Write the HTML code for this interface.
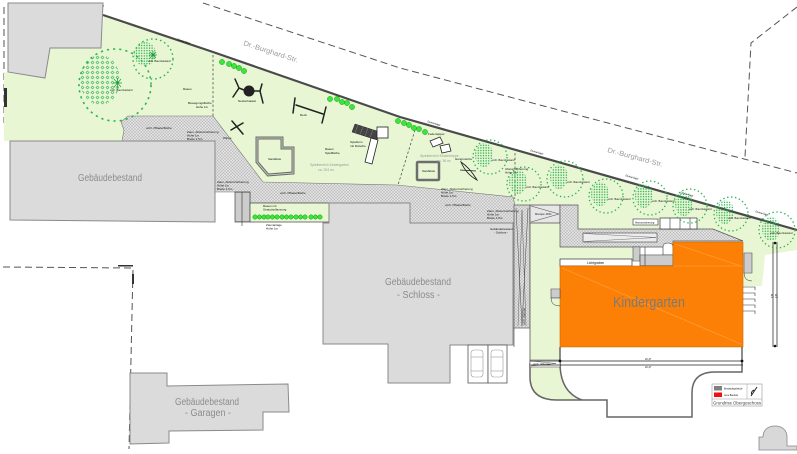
<!DOCTYPE html>
<html><head><meta charset="utf-8"><title>Lageplan Kindergarten</title>
<style>
html,body{margin:0;padding:0;background:#fff;width:797px;height:454px;overflow:hidden}
svg{display:block}
text{font-family:"Liberation Sans",Arial,sans-serif}
.t{font-size:3px;fill:#111}
.b{font-size:10px;fill:#8c8c8c}
</style></head><body>
<svg width="797" height="454" viewBox="0 0 797 454" xmlns="http://www.w3.org/2000/svg">
<defs>
 <pattern id="pv" width="3" height="3" patternUnits="userSpaceOnUse"><rect width="3" height="3" fill="#e0e0e0"/><path d="M0,0L3,3M3,0L0,3" stroke="#b4b4b4" stroke-width="0.45"/></pattern>
 <pattern id="td" width="2.6" height="2.6" patternUnits="userSpaceOnUse"><circle cx="1.3" cy="1.3" r="0.72" fill="#1fae48"/></pattern>
 <pattern id="lf" width="5" height="5" patternUnits="userSpaceOnUse"><path d="M1,2.5L2.5,1L4,2.5L2.5,4Z" fill="none" stroke="#2db552" stroke-width="0.6"/></pattern>
 <pattern id="st" width="4" height="2" patternUnits="userSpaceOnUse"><rect width="4" height="2" fill="#fff"/><line x1="0" y1="1" x2="4" y2="1" stroke="#333" stroke-width="0.5"/></pattern>
</defs>
<rect width="797" height="454" fill="#fff"/>

<!-- dashed property / road lines -->
<g fill="none" stroke="#555" stroke-width="1" stroke-dasharray="7 4">
 <polyline points="203,3 400,68 797,173"/>
 <polyline points="797,7 751,43 745,157"/>
 <polyline points="58,3 104,6"/>
 <polyline points="4,7 4,123"/>
 <polyline points="3,267 133,268 129,449"/>
</g>
<rect x="118" y="265" width="15" height="1.5" fill="#333"/>
<rect x="132" y="274" width="2" height="10" fill="#333"/>

<!-- lawn -->
<polygon fill="#e8f6d4" points="4,72 45,78 50,48 101,48 104,14 110,18 213,53 400,117 797,230 797,250 765,255 762,286 743,286 743,241 713,229 578,229 578,205 515,205 513,197 397,185 263,182 213,116 128,116 122,141 4,141"/>
<rect x="4" y="88" width="3" height="19" fill="#333"/>

<!-- top-left neighbour building -->
<polygon points="8,3 103,3 101,48 50,48 45,78 8,72" fill="#dbdbdb" stroke="#8a8a8a" stroke-width="1"/>

<!-- fence along street -->
<polyline points="103,15 112,18 213,52 400,117 797,230" fill="none" stroke="#4a4a4a" stroke-width="2.2"/>
<g class="t" style="font-size:2.6px">
 <text transform="translate(177,40) rotate(18)">Zaunanlage</text>
 <text transform="translate(427,122) rotate(17)">Zaunanlage</text>
 <text transform="translate(530,151) rotate(16)">Zaunanlage</text>
 <text transform="translate(625,176) rotate(16)">Zaunanlage</text>
 <text transform="translate(680,193) rotate(16)">Zaunanlage</text>
 <text transform="translate(755,212) rotate(16)">Zaunanlage</text>
</g>

<!-- dashed lines inside lawn -->
<g fill="none" stroke="#555" stroke-width="0.8" stroke-dasharray="2.5 2">
 <line x1="213" y1="55" x2="213" y2="116"/>
 <line x1="415" y1="130" x2="398" y2="185"/>
 <line x1="515" y1="153" x2="515" y2="196"/>
</g>

<!-- paving -->
<polygon fill="url(#pv)" stroke="#777" stroke-width="0.6" points="128,116 213,116 263,182 397,185 513,197 515,205 515,223 410,223 410,203 250,203 250,192 215,192 215,141 122,141 124,130 121,122"/>

<!-- left building -->
<polygon points="10,141 215,141 215,222 10,220" fill="#dbdbdb" stroke="#8a8a8a" stroke-width="1"/>
<text class="b" x="78" y="181" textLength="64" lengthAdjust="spacingAndGlyphs">Gebäudebestand</text>

<!-- stairs + green strip -->
<rect x="235" y="192" width="15" height="30" fill="url(#st)" stroke="#444" stroke-width="0.7"/>
<line x1="242" y1="192" x2="242" y2="226" stroke="#333" stroke-width="0.6"/>
<rect x="250" y="203" width="80" height="19" fill="#e8f6d4" stroke="#555" stroke-width="0.8"/>
<g fill="#39e639" stroke="#1a9a1a" stroke-width="0.5">
 <circle cx="255" cy="217" r="2.2"/><circle cx="259.5" cy="217" r="2.2"/><circle cx="264" cy="217" r="2.2"/>
 <circle cx="268" cy="217" r="2.2"/><circle cx="272.5" cy="217" r="2.2"/><circle cx="277" cy="217" r="2.2"/>
 <circle cx="282" cy="217" r="2.2"/><circle cx="286.5" cy="217" r="2.2"/><circle cx="291" cy="217" r="2.2"/>
 <circle cx="296" cy="217" r="2.2"/><circle cx="300.5" cy="217" r="2.2"/><circle cx="305" cy="217" r="2.2"/>
 <circle cx="311" cy="217" r="2.2"/><circle cx="315.5" cy="217" r="2.2"/><circle cx="320" cy="217" r="2.2"/>
</g>

<!-- Schloss building -->
<polygon points="323,223 329,223 329,203 410,203 410,223 513,223 513,345 450,345 450,383 388,383 388,344 323,344" fill="#dbdbdb" stroke="#8a8a8a" stroke-width="1"/>
<text class="b" x="385" y="285" textLength="66" lengthAdjust="spacingAndGlyphs">Gebäudebestand</text>
<text class="b" x="397" y="298" textLength="43" lengthAdjust="spacingAndGlyphs">- Schloss -</text>

<!-- parking -->
<g fill="#fff" stroke="#555" stroke-width="0.8">
 <rect x="468" y="345" width="20" height="38"/>
 <rect x="488" y="345" width="19" height="38"/>
</g>
<g fill="none" stroke="#999" stroke-width="0.6">
 <rect x="471" y="350" width="12" height="27" rx="3"/><line x1="471" y1="357" x2="483" y2="357"/><line x1="471" y1="371" x2="483" y2="371"/>
 <rect x="491" y="350" width="12" height="27" rx="3"/><line x1="491" y1="357" x2="503" y2="357"/><line x1="491" y1="371" x2="503" y2="371"/>
</g>

<!-- ramp strip -->
<rect x="514" y="205" width="16" height="123" fill="url(#pv)" stroke="#555" stroke-width="0.7"/>
<polyline points="516,208 522,326 528,208" fill="none" stroke="#444" stroke-width="0.5"/>
<polyline points="518,326 522,210 526,326" fill="none" stroke="#444" stroke-width="0.4"/>
<line x1="514" y1="328" x2="514" y2="347" stroke="#555" stroke-width="0.7"/>

<!-- green column -->
<rect x="530" y="223" width="30" height="140" fill="#e8f6d4"/>
<rect x="560" y="247" width="75" height="13" fill="#e8f6d4"/>
<path d="M530,363 L530,377 Q530,400 557,400 L582,400 Q560,392 560,363 Z" fill="#e8f6d4"/>
<line x1="530" y1="205" x2="530" y2="377" stroke="#555" stroke-width="0.8"/>

<!-- Rampe box -->
<rect x="530" y="205" width="30" height="18" fill="#e6e6e6" stroke="#444" stroke-width="0.7"/>
<polyline points="531,206 559,214 531,222" fill="none" stroke="#444" stroke-width="0.5"/>
<text class="t" x="535" y="215">Rampe 16%</text>

<!-- gray block and band -->
<polygon points="560,205 578,205 578,229 713,229 743,241 673,241 673,247 560,247" fill="url(#pv)" stroke="#555" stroke-width="0.7"/>
<rect x="583" y="233" width="74" height="9" fill="#ececec" stroke="#444" stroke-width="0.6"/>
<polyline points="584,233.5 656,237.5 584,241.5" fill="none" stroke="#555" stroke-width="0.4"/>
<rect x="660" y="218" width="37" height="11" fill="#fff" stroke="#333" stroke-width="0.7"/>
<g stroke="#333" stroke-width="0.6"><line x1="670" y1="218" x2="670" y2="229"/><line x1="680" y1="218" x2="680" y2="229"/><line x1="690" y1="218" x2="690" y2="229"/></g>
<rect x="633" y="219" width="25" height="6" fill="#fff" stroke="#333" stroke-width="0.6"/>
<text class="t" x="635" y="223.3" style="font-size:2.5px">Absturzsicherung</text>
<path d="M663,255 L663,247 Q663,243 668,243 Q673,243 673,247 L673,255 Z" fill="#fff" stroke="#333" stroke-width="0.6"/>

<!-- stairs below band -->
<rect x="633" y="247" width="7" height="14" fill="url(#st)" stroke="#333" stroke-width="0.5"/>
<rect x="640" y="255" width="33" height="11" fill="url(#st)" stroke="#333" stroke-width="0.6"/>
<line x1="645" y1="247" x2="645" y2="266" stroke="#333" stroke-width="0.6"/>

<!-- Lichtgraben -->
<rect x="560" y="259" width="72" height="7" fill="#fff" stroke="#333" stroke-width="0.7"/>
<text class="t" x="587" y="264" style="font-size:3.3px">Lichtgraben</text>

<!-- Kindergarten -->
<polygon points="560,266 673,266 673,242 743,242 743,347 560,347" fill="#fd8006" stroke="#c86400" stroke-width="0.6"/>
<g stroke="#ffa347" stroke-width="0.6" fill="none">
 <line x1="562" y1="268" x2="741" y2="344"/>
 <line x1="675" y1="244" x2="741" y2="266"/>
 <line x1="673" y1="266" x2="743" y2="266"/>
</g>
<text x="613" y="307" style="font-size:15px;fill:#7a7a7a" textLength="72" lengthAdjust="spacingAndGlyphs">Kindergarten</text>

<!-- stairs around kindergarten -->
<rect x="744" y="253" width="8" height="20" fill="url(#st)" stroke="#333" stroke-width="0.5"/>
<path d="M744,273 Q744,281 752,281" fill="none" stroke="#333" stroke-width="0.5"/>
<rect x="551" y="289" width="9" height="9" fill="url(#st)" stroke="#333" stroke-width="0.5"/>
<path d="M551,298 Q551,306 560,306" fill="none" stroke="#333" stroke-width="0.5"/>
<g stroke="#333" stroke-width="0.6" fill="none">
 <polyline points="743,287 755,287 755,290"/>
 <polyline points="743,293 755,293 755,296"/>
 <polyline points="743,299 755,299 755,302"/>
 <polyline points="743,305 755,305 755,308"/>
 <polyline points="743,311 755,311 755,314"/>
</g>

<!-- lower outline -->
<g fill="none" stroke="#666" stroke-width="1.5">
 <path d="M530,363 L530,377 Q530,400 557,400 L607,400 L607,417 L692,417 L692,393 Q692,372 715,372 L742,372 L742,347"/>
 <path d="M560,347 L560,363 Q560,392 582,400"/>
</g>
<rect x="530" y="360" width="30" height="7" fill="#fff" stroke="#444" stroke-width="0.5"/>
<polyline points="531,361 556,363.5 531,366" fill="none" stroke="#444" stroke-width="0.4"/>
<g stroke="#222" stroke-width="0.7">
 <line x1="530" y1="361" x2="743" y2="361"/>
 <line x1="530" y1="365" x2="743" y2="365"/>
</g>
<circle cx="560" cy="361" r="1.4" fill="#111"/><circle cx="742" cy="361" r="1.4" fill="#111"/>
<text class="t" x="645" y="360" style="font-size:2.5px">20,47</text>
<text class="t" x="645" y="368" style="font-size:2.5px">20,47</text>

<!-- right dimension -->
<g stroke="#333" stroke-width="0.8">
 <line x1="773" y1="242" x2="773" y2="347"/>
 <line x1="777" y1="242" x2="777" y2="347"/>
</g>
<circle cx="775" cy="243" r="1.3" fill="#111"/><circle cx="775" cy="346" r="1.3" fill="#111"/>
<text x="771" y="298" style="font-size:5px;fill:#333">5 5</text>

<!-- legend -->
<rect x="712" y="384" width="50" height="22" fill="#fff" stroke="#999" stroke-width="0.6"/>
<line x1="712" y1="399" x2="762" y2="399" stroke="#999" stroke-width="0.5"/>
<line x1="747" y1="384" x2="747" y2="399" stroke="#999" stroke-width="0.5"/>
<rect x="714" y="386" width="8" height="4.5" fill="#808080"/>
<rect x="714" y="392.5" width="8" height="4.5" fill="#f01010"/>
<text class="t" x="724" y="389.5" style="font-size:2.3px">Bestandsgebäude</text>
<text class="t" x="724" y="396" style="font-size:2.3px">neue Bauteile</text>
<path d="M751,396 L757,387 M754,390 Q750,392 752,395" stroke="#222" stroke-width="1" fill="none"/>
<text x="713" y="404.5" style="font-size:4.6px;fill:#444" textLength="48" lengthAdjust="spacingAndGlyphs">Grundriss Obergeschoss</text>

<!-- bottom-right arch -->
<path d="M759,450 L759,437 L763,437 C763,430 768,426 775,426 C782,426 787,430 787,437 L787,446 L797,446 L797,450 Z" fill="#d8d8d8" stroke="#888" stroke-width="0.8"/>

<!-- Garagen -->
<polygon points="130,373 167,373 167,386 288,384 289,412 263,412 263,430 169,431 169,443 130,444" fill="#dbdbdb" stroke="#8a8a8a" stroke-width="1"/>
<text class="b" x="175" y="405" textLength="64" lengthAdjust="spacingAndGlyphs">Gebäudebestand</text>
<text class="b" x="185" y="416" textLength="46" lengthAdjust="spacingAndGlyphs">- Garagen -</text>

<!-- big trees top-left -->
<circle cx="115" cy="85" r="36" fill="none" stroke="#2db552" stroke-width="1.6" stroke-dasharray="2.2 4"/>
<ellipse cx="100" cy="80" rx="20" ry="25" fill="url(#lf)"/>
<path d="M113,83 L122,83 M117.5,78 L117.5,88 M114,79 L121,87 M121,79 L114,87" stroke="#1a9a3a" stroke-width="0.7"/>
<circle cx="153" cy="59" r="20" fill="none" stroke="#2db552" stroke-width="1.4" stroke-dasharray="1.6 3"/>
<ellipse cx="145" cy="54" rx="11" ry="12" fill="url(#td)"/>
<path d="M149,55 L157,55 M153,51 L153,59 M150,52 L156,58 M156,52 L150,58" stroke="#1a9a3a" stroke-width="0.7"/>

<!-- boundary trees -->
<g>
 <g transform="translate(490,157)"><circle r="17" fill="none" stroke="#2bb44e" stroke-width="1.3" stroke-dasharray="1.4 2.6"/><ellipse cx="-6" cy="-2" rx="9" ry="12" fill="url(#td)"/></g>
 <g transform="translate(524,184)"><circle r="17" fill="none" stroke="#2bb44e" stroke-width="1.3" stroke-dasharray="1.4 2.6"/><ellipse cx="-6" cy="-2" rx="9" ry="12" fill="url(#td)"/></g>
 <g transform="translate(565,179)"><circle r="18" fill="none" stroke="#2bb44e" stroke-width="1.3" stroke-dasharray="1.4 2.6"/><ellipse cx="-6" cy="-2" rx="9" ry="12" fill="url(#td)"/></g>
 <g transform="translate(606,196)"><circle r="17" fill="none" stroke="#2bb44e" stroke-width="1.3" stroke-dasharray="1.4 2.6"/><ellipse cx="-6" cy="-2" rx="9" ry="12" fill="url(#td)"/></g>
 <g transform="translate(650,198)"><circle r="17" fill="none" stroke="#2bb44e" stroke-width="1.3" stroke-dasharray="1.4 2.6"/><ellipse cx="-6" cy="-2" rx="9" ry="12" fill="url(#td)"/></g>
 <g transform="translate(690,206)"><circle r="17" fill="none" stroke="#2bb44e" stroke-width="1.3" stroke-dasharray="1.4 2.6"/><ellipse cx="-6" cy="-2" rx="9" ry="12" fill="url(#td)"/></g>
 <g transform="translate(731,214)"><circle r="17" fill="none" stroke="#2bb44e" stroke-width="1.3" stroke-dasharray="1.4 2.6"/><ellipse cx="-6" cy="-2" rx="9" ry="12" fill="url(#td)"/></g>
 <g transform="translate(777,230)"><circle r="18" fill="none" stroke="#2bb44e" stroke-width="1.3" stroke-dasharray="1.4 2.6"/><ellipse cx="-6" cy="-1" rx="9" ry="12" fill="url(#td)"/></g>
</g>
<g class="t" style="font-size:2.6px">
 <text x="110" y="91">vorh. Baumbestand</text>
 <text x="148" y="62">vorh. Baumbestand</text>
 <text x="492" y="161">vorh. Baumbestand</text>
 <text x="526" y="188">vorh. Baumbestand</text>
 <text x="567" y="183">vorh. Baumbestand</text>
 <text x="608" y="200">vorh. Baumbestand</text>
 <text x="652" y="202">vorh. Baumbestand</text>
 <text x="689" y="210">vorh. Baumbestand</text>
 <text x="728" y="219">vorh. Baumbestand</text>
 <text x="770" y="234">vorh. Baumbestand</text>
</g>

<!-- shrubs -->
<g fill="#39e639" stroke="#1a9a1a" stroke-width="0.5">
 <circle cx="222" cy="62" r="2.6"/><circle cx="229" cy="64" r="2.6"/><circle cx="234" cy="66" r="2.6"/><circle cx="239" cy="68" r="2.6"/><circle cx="244" cy="71" r="2.6"/>
 <circle cx="330" cy="99" r="2.6"/><circle cx="337" cy="99" r="2.6"/><circle cx="342" cy="102" r="2.6"/><circle cx="347" cy="103" r="2.6"/><circle cx="352" cy="107" r="2.6"/>
 <circle cx="398" cy="121" r="2.6"/><circle cx="404" cy="123" r="2.6"/><circle cx="409" cy="125" r="2.6"/><circle cx="414" cy="128" r="2.6"/><circle cx="419" cy="129" r="2.6"/><circle cx="425" cy="132" r="2.6"/>
</g>

<!-- playground equipment -->
<g stroke="#222" stroke-width="1.5" fill="none" stroke-linecap="round">
 <polyline points="235,79 239,88 233,97"/><line x1="239" y1="88" x2="244" y2="90"/>
 <polyline points="262,84 260,91 263,103"/><line x1="254" y1="91" x2="260" y2="91"/>
 <line x1="296" y1="105" x2="323" y2="114"/>
 <line x1="295" y1="98" x2="293" y2="113"/>
 <line x1="326" y1="107" x2="322" y2="123"/>
 <line x1="232" y1="121" x2="243" y2="134"/>
 <line x1="231" y1="130" x2="243" y2="123"/>
</g>
<circle cx="249" cy="91" r="5.5" fill="#222"/>
<polygon points="257,138 282,138 282,148 293,148 293,173 268,175 257,162" fill="none" stroke="#6d6d6d" stroke-width="3"/>
<polygon points="257,138 282,138 282,148 293,148 293,173 268,175 257,162" fill="none" stroke="#d4dfc8" stroke-width="0.8"/>
<text class="t" x="268" y="160">Sandkiste</text>
<polygon points="355,124 380,132 377,140 352,132" fill="#444" stroke="#222" stroke-width="0.5"/>
<g stroke="#999" stroke-width="0.4"><line x1="358" y1="125" x2="355" y2="133"/><line x1="363" y1="126.5" x2="360" y2="134.5"/><line x1="368" y1="128" x2="365" y2="136"/><line x1="373" y1="129.5" x2="370" y2="137.5"/></g>
<rect x="377" y="127" width="11" height="11" fill="#fff" stroke="#222" stroke-width="0.8"/>
<polygon points="371,138 378,140 372,164 365,162" fill="#fff" stroke="#222" stroke-width="0.8"/>
<rect x="417" y="162" width="22" height="18" rx="1" fill="#e8f6d4" stroke="#6d6d6d" stroke-width="2.5"/>
<text class="t" x="422" y="172">Sandkiste</text>
<g fill="#fff" stroke="#222" stroke-width="0.8">
 <polygon points="430,141 440,137 443,143 433,147"/>
 <polygon points="440,146 449,144 451,151 442,153"/>
</g>
<path d="M461,162 Q470,168 477,180 Q466,174 461,162 Z" fill="none" stroke="#222" stroke-width="0.9"/>
<line x1="460" y1="170" x2="476" y2="171" stroke="#222" stroke-width="0.8"/>

<!-- grey area labels -->
<text x="310" y="166" style="font-size:3.4px;fill:#9a9a9a">Spielbereich Kindergarten</text>
<text x="318" y="171" style="font-size:3.4px;fill:#9a9a9a">ca. 204 m²</text>
<text x="420" y="157" style="font-size:3.4px;fill:#9a9a9a">Spielbereich Kinderkrippe</text>
<text x="437" y="162" style="font-size:3.4px;fill:#9a9a9a">ca. 36 m²</text>

<!-- tiny labels -->
<g class="t">
 <text x="238" y="102">Nestschaukel</text>
 <text x="300" y="116">Reck</text>
 <text x="223" y="139">Wippe</text>
 <text x="325" y="150">Rasen</text>
 <text x="325" y="154">Spielfläche</text>
 <text x="350" y="143">Spielturm</text>
 <text x="350" y="147">mit Rutsche</text>
 <text x="428" y="135">Federwipper</text>
 <text x="455" y="160">Hangrutsche</text>
 <text x="183" y="90">Rasen</text>
 <text x="188" y="104">Bewegungsfläche</text>
 <text x="196" y="108">Höhe 1m</text>
 <text x="146" y="129">vorh. Pflasterfläche</text>
 <text x="187" y="133">Zaun, Absturzsicherung</text>
 <text x="187" y="136.5">Höhe 1m</text>
 <text x="187" y="140">Breite 1,5m</text>
 <text x="217" y="183">Zaun, Absturzsicherung</text>
 <text x="217" y="186.5">Höhe 1m</text>
 <text x="217" y="190">Breite 1,5m</text>
 <text x="280" y="194">vorh. Pflasterfläche</text>
 <text x="263" y="207">Rasen mit</text>
 <text x="263" y="210.5">Strauchpflanzung</text>
 <text x="266" y="226">Zaunanlage</text>
 <text x="266" y="229.5">Höhe 1m</text>
 <text x="441" y="190">Zaun, Absturzsicherung</text>
 <text x="441" y="193.5">Höhe 1m</text>
 <text x="441" y="197">Breite 1,5m</text>
 <text x="445" y="206">vorh. Pflasterfläche</text>
 <text x="487" y="212">Zaun, Absturzsicherung</text>
 <text x="487" y="215.5">Höhe 1m</text>
 <text x="487" y="219">Breite 1,5m</text>
 <text x="490" y="230">Gebäudebestand</text>
 <text x="494" y="233.5">- Schloss -</text>
 <text x="505" y="170">Absturzsicherung</text>
 <text x="505" y="173.5">Höhe 1m</text>
 <text transform="translate(525,325) rotate(-90)">vorh. Rampe</text>
 <text x="533" y="365">vorh. Rampe</text>
</g>

<!-- street names -->
<text transform="translate(243,45) rotate(18)" style="font-size:7px;fill:#9a9a9a" textLength="57" lengthAdjust="spacingAndGlyphs">Dr.-Burghard-Str.</text>
<text transform="translate(607,152) rotate(15)" style="font-size:7px;fill:#9a9a9a" textLength="57" lengthAdjust="spacingAndGlyphs">Dr.-Burghard-Str.</text>
</svg>
</body></html>
